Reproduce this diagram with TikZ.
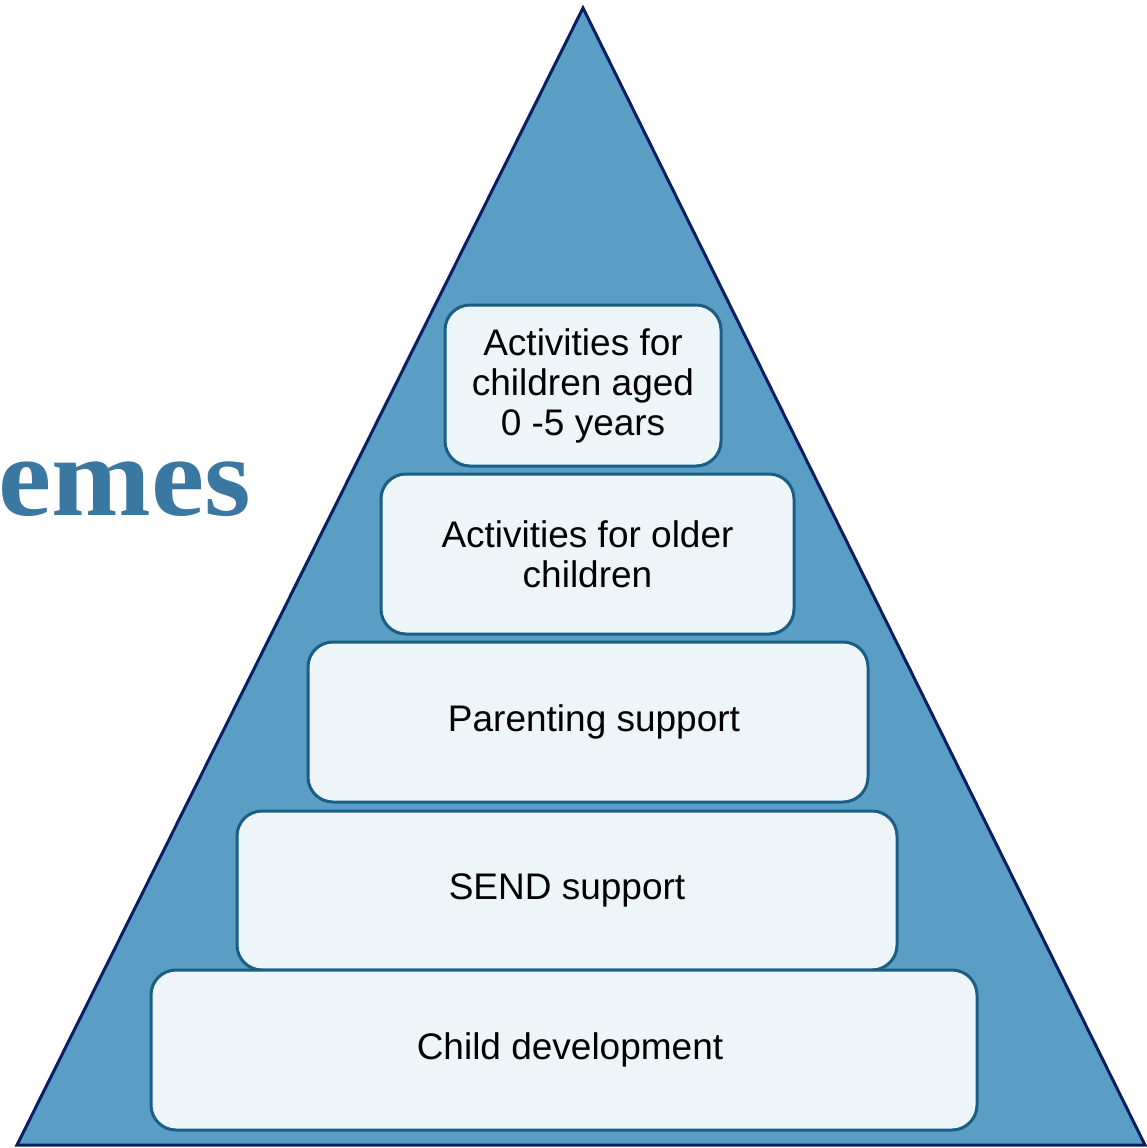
\documentclass[tikz,border=0pt]{standalone}
\usepackage{fontspec}
\setmainfont{Liberation Sans}
\newfontfamily\titlefont{Liberation Serif}
\definecolor{pyrfill}{HTML}{5A9EC5}
\definecolor{pyrline}{HTML}{0B1E64}
\definecolor{boxfill}{HTML}{EEF5F9}
\definecolor{boxline}{HTML}{1B5E85}
\definecolor{titleblue}{HTML}{3B78A1}
\begin{document}
\begin{tikzpicture}[x=1pt, y=-1pt,
		pyramid/.style = {draw=pyrline, fill=pyrfill, line width=3pt},
		level/.style = {draw=boxline, fill=boxfill, line width=3pt,
			rounded corners=25pt, align=center, inner sep=0pt,
			font=\fontsize{37}{40}\selectfont},
		title/.style = {text=titleblue, inner sep=0pt,
			font=\titlefont\bfseries\fontsize{114}{114}\selectfont}]
		
		\useasboundingbox (0,0) rectangle (1146,1148);
		
		% the pyramid
		\coordinate (apex) at (583,8);
		\coordinate (baseL) at (17,1145);
		\coordinate (baseR) at (1145,1145);
		\draw[pyramid] (apex) -- (baseL) -- (baseR) -- cycle;
		
		% cut-off heading
		\node[title, anchor=base east] (heading) at (251,515) {\scalebox{1.05}[1]{emes}};
		
		% levels, top to bottom
		\node[level, minimum width=276pt, minimum height=161pt] (young) at (583,385.5)
			{Activities for\\children aged\\0 -5 years};
		\node[level, minimum width=413pt, minimum height=160pt] (older) at (587.5,554)
			{Activities for older\\children};
		\node[level, minimum width=560pt, minimum height=160pt] (parent) at (588,722)
			{\hspace*{12pt}Parenting support};
		\node[level, minimum width=660pt, minimum height=159pt] (send) at (567,890.5)
			{SEND support};
		\node[level, minimum width=826pt, minimum height=160pt] (child) at (564,1050)
			{\hspace*{12pt}Child development};
		\end{tikzpicture}
\end{document}
